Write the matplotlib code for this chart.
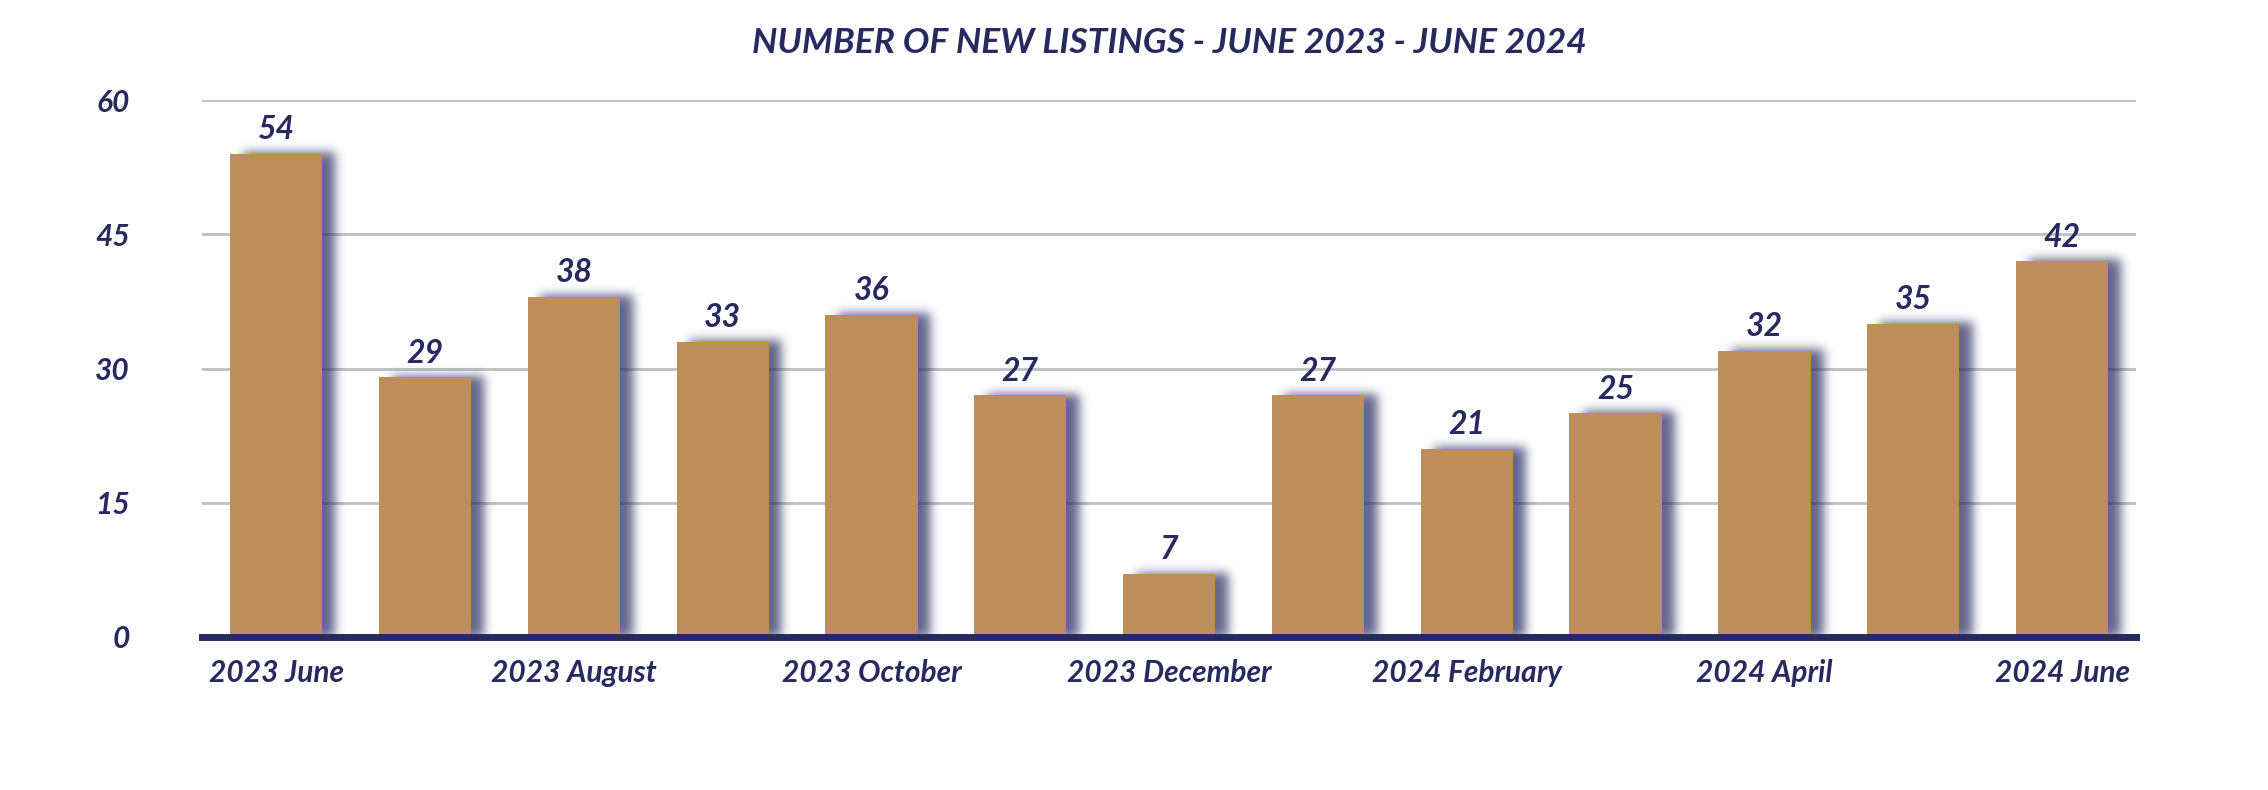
import numpy as np
import matplotlib
matplotlib.use("Agg")
import matplotlib.pyplot as plt

months = ["2023 June", "2023 July", "2023 August", "2023 September", "2023 October",
          "2023 November", "2023 December", "2024 January", "2024 February",
          "2024 March", "2024 April", "2024 May", "2024 June"]
listings = [54, 29, 38, 33, 36, 27, 7, 27, 21, 25, 32, 35, 42]
y_ticks = [0, 15, 30, 45, 60]

navy = "#262a5e"
gold = "#bc8e5a"
grid_gray = "#bfbfbf"

plt.rcParams['font.family'] = ['Lato', 'DejaVu Sans']

fig = plt.figure(figsize=(22.68, 7.9), dpi=100)
ax = fig.add_axes([0.089, 0.194, 0.853, 0.679])

x = np.arange(len(months))
bar_w = 0.62

# blurred shadow behind bars
nx, ny = 1934, 537
xs = -0.5 + (np.arange(nx) + 0.5) * len(months) / nx
ys = (np.arange(ny) + 0.5) * 60 / ny
dx = 0.085
mask = np.zeros((ny, nx))
for xi, v in zip(x, listings):
    cols = np.abs(xs - (xi + dx)) < bar_w / 2
    rows = ys < v + 0.2
    mask[np.ix_(rows, cols)] = 1.0
sigma = 5.0
k = np.arange(-18, 19)
kern = np.exp(-k**2 / (2 * sigma**2))
kern /= kern.sum()
mask = np.apply_along_axis(lambda r: np.convolve(r, kern, mode="same"), 1, mask)
mask = np.apply_along_axis(lambda c: np.convolve(c, kern, mode="same"), 0, mask)
rgba = np.zeros((ny, nx, 4))
rgba[..., 0] = 0x26 / 255
rgba[..., 1] = 0x2a / 255
rgba[..., 2] = 0x5e / 255
rgba[..., 3] = mask * 0.72
ax.imshow(rgba, origin="lower", extent=(-0.5, len(months) - 0.5, 0, 60),
          aspect="auto", interpolation="bilinear", zorder=1.5)

ax.bar(x, listings, width=bar_w, color=gold, zorder=2)

for xi, v in zip(x, listings):
    ax.annotate(str(v), (xi, v), xytext=(0, 7), textcoords="offset points",
                ha="center", va="bottom", fontsize=23, fontweight="bold",
                fontstyle="italic", color=navy)

ax.set_xlim(-0.5, len(months) - 0.5)
ax.set_ylim(0, 60)
ax.set_yticks(y_ticks)
ax.set_yticklabels([str(t) for t in y_ticks])
ax.set_xticks(x[::2])
ax.set_xticklabels(months[::2])
ax.yaxis.grid(True, color=grid_gray, linewidth=2, zorder=0)
ax.set_axisbelow(True)
ax.axhline(0, color=navy, linewidth=5, zorder=3, clip_on=False)
for s in ax.spines.values():
    s.set_visible(False)
ax.tick_params(axis="both", length=0, colors=navy)
ax.tick_params(axis="y", pad=52)
ax.tick_params(axis="x", pad=16)
for lab in ax.get_xticklabels() + ax.get_yticklabels():
    lab.set_fontsize(21.5)
    lab.set_fontweight("bold")
    lab.set_fontstyle("italic")
    lab.set_color(navy)

fig.text(0.5157, 0.945, "NUMBER OF NEW LISTINGS - JUNE 2023 - JUNE 2024",
         ha="center", va="center", fontsize=25.5, fontweight="bold",
         fontstyle="italic", color=navy)

fig.savefig("out.png", dpi=100, facecolor="white")
